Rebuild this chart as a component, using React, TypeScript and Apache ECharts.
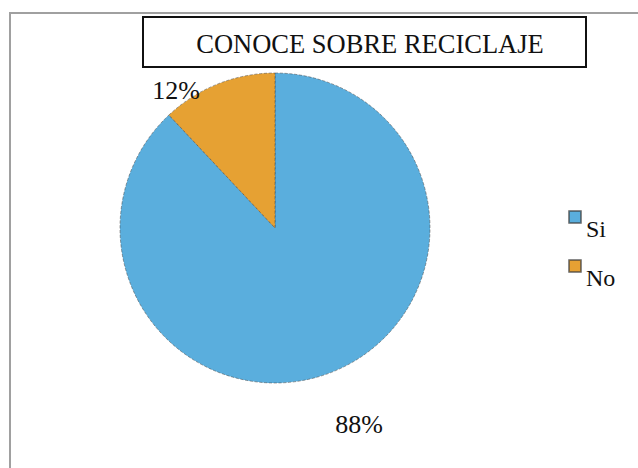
import React, { useEffect, useRef } from "react";
import * as echarts from "echarts";

const titleText = "CONOCE SOBRE RECICLAJE";
const categories = ["Si", "No"];
const values = [88, 12];
const colors = ["#5aaedd", "#e6a133"];

export default function App() {
  const ref = useRef<HTMLDivElement>(null);
  useEffect(() => {
    document.body.style.margin = "0";
    const chart = echarts.init(ref.current!, null, { renderer: "svg" });
    const serif = "Liberation Serif, Times New Roman, serif";
    chart.setOption({
      animation: false,
      backgroundColor: "#ffffff",
      title: {
        text: titleText,
        left: 365,
        top: 25,
        textAlign: "center",
        textStyle: { fontFamily: serif, fontSize: 26.5, fontWeight: "normal", color: "#111" },
      },
      graphic: [
        { type: "line", shape: { x1: 9, y1: 13, x2: 638, y2: 13 }, style: { stroke: "#a0a0a0", lineWidth: 2 } },
        { type: "line", shape: { x1: 10, y1: 13, x2: 10, y2: 468 }, style: { stroke: "#a0a0a0", lineWidth: 2 } },
        { type: "rect", shape: { x: 143, y: 17, width: 443, height: 50 }, style: { fill: "none", stroke: "#111", lineWidth: 2 } },
      ],
      legend: {
        orient: "vertical",
        left: 563,
        top: 205,
        itemWidth: 12,
        itemHeight: 12,
        itemGap: 18,
        icon: "rect",
        data: categories,
        formatter: (name: string) => `{t|${name}}`,
        textStyle: {
          fontFamily: serif,
          fontSize: 24,
          color: "#111",
          rich: { t: { fontFamily: serif, fontSize: 24, color: "#111", padding: [24, 0, 0, 0] } },
        },
      },
      series: [
        {
          type: "pie",
          center: [275, 228],
          radius: 155,
          startAngle: 90,
          clockwise: true,
          data: categories.map((c, i) => ({ name: c, value: values[i], itemStyle: { color: colors[i] } })),
          itemStyle: { borderColor: "rgba(60,60,60,0.6)", borderWidth: 0.8, borderType: "dashed" },
          label: {
            show: true,
            formatter: "{d}%",
            fontFamily: serif,
            fontSize: 26,
            color: "#111",
          },
          labelLine: { show: false },
          labelLayout: (p: any) => {
            if (p.dataIndex === 0) return { x: 359, y: 424, align: "center", verticalAlign: "middle" };
            return { x: 176, y: 90, align: "center", verticalAlign: "middle" };
          },
        },
      ],
    });
    return () => chart.dispose();
  }, []);
  return <div ref={ref} style={{ width: 638, height: 468 }} />;
}
